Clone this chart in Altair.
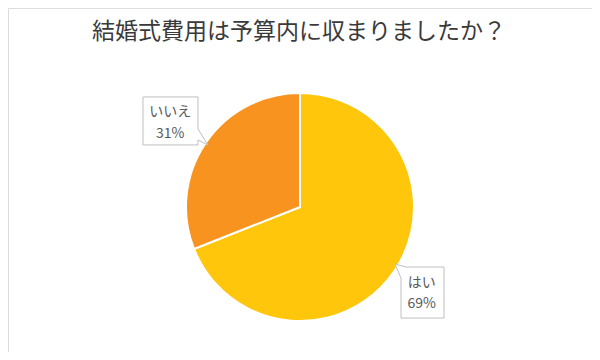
import math
import altair as alt
import pandas as pd

title_text = "結婚式費用は予算内に収まりましたか？"
categories = ["はい", "いいえ"]
values = [69, 31]
colors = ["#FFC60B", "#F7931E"]

# layout (chart coordinates = page coordinates - 8)
W, H = 584, 344
CX, CY, R = 292, 199, 114
LABEL_R = 152

total = sum(values)
rows = []
cum = 0
for c, v in zip(categories, values):
    mid = (cum + v / 2) / total * 2 * math.pi
    cum += v
    rows.append({
        "cat": c,
        "value": v,
        "pct": f"{round(v / total * 100)}%",
        "lx": CX + LABEL_R * math.sin(mid),
        "ly": CY - LABEL_R * math.cos(mid),
        "tail": c,
    })
df = pd.DataFrame(rows)
df["order"] = range(len(df))

path_iie = "M-31.3,-24.6 L23.7,-24.6 L23.7,7.4 L33.7,23.4 L23.7,18.4 L23.7,23.4 L-31.3,23.4 Z"
path_hai = "M-19.7,-25.4 L18.3,-25.4 L18.3,25.6 L-24.7,25.6 L-24.7,-14.4 L-30.7,-28.4 Z"

xs = alt.Scale(domain=[0, W], range=[0, W], nice=False, zero=False)
ys = alt.Scale(domain=[0, H], range=[0, H], nice=False, zero=False)

pie = alt.Chart(df).mark_arc(radius=R, stroke="white", strokeWidth=2).encode(
    theta=alt.Theta("value:Q", stack=True),
    color=alt.Color("cat:N", scale=alt.Scale(domain=categories, range=colors), legend=None),
    order=alt.Order("order:Q"),
    x=alt.value(CX),
    y=alt.value(CY),
)

boxes = alt.Chart(df).mark_point(
    filled=True, fill="white", stroke="#bfbfbf", strokeWidth=1, size=4, opacity=1
).encode(
    x=alt.X("lx:Q", scale=xs, axis=None),
    y=alt.Y("ly:Q", scale=ys, axis=None),
    shape=alt.Shape("tail:N", scale=alt.Scale(domain=categories, range=[path_hai, path_iie]), legend=None),
)

txt_cat = alt.Chart(df).mark_text(
    font="Noto Sans CJK JP", fontSize=14, color="#595959", dx=-4, dy=-9.5, baseline="middle"
).encode(
    x=alt.X("lx:Q", scale=xs, axis=None),
    y=alt.Y("ly:Q", scale=ys, axis=None),
    text="cat:N",
)

txt_pct = alt.Chart(df).mark_text(
    font="Noto Sans CJK JP", fontSize=14, color="#595959", dx=-4, dy=12, baseline="middle"
).encode(
    x=alt.X("lx:Q", scale=xs, axis=None),
    y=alt.Y("ly:Q", scale=ys, axis=None),
    text="pct:N",
)

title = alt.Chart(pd.DataFrame({"t": [title_text]})).mark_text(
    font="Noto Sans CJK JP", fontSize=23, color="#3a3a3a", baseline="middle", align="center"
).encode(
    x=alt.value(291),
    y=alt.value(24),
    text="t:N",
)

chart = alt.layer(pie, boxes, txt_cat, txt_pct, title).properties(
    width=W, height=H, padding=0, autosize=alt.AutoSizeParams(type="none")
).configure_view(stroke=None).configure(background="white")

chart.save("out.html", embed_options={"renderer": "svg", "actions": False})
